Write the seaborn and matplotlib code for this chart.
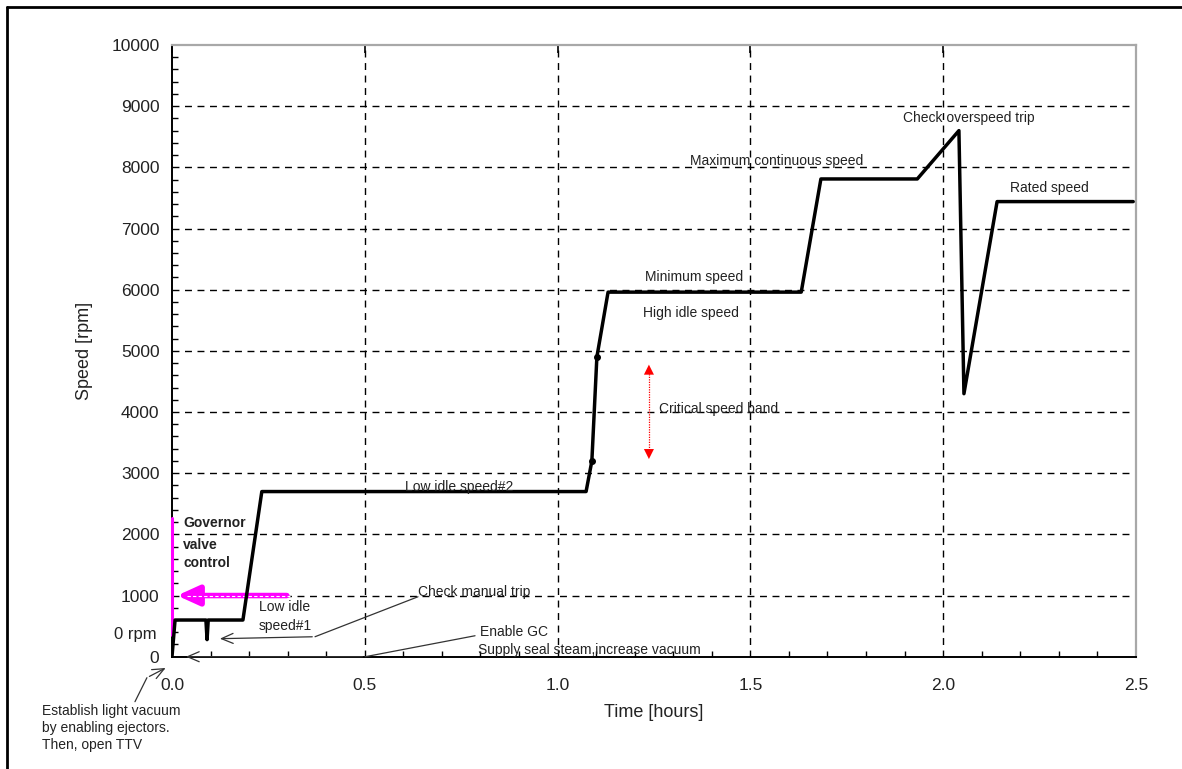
import matplotlib
matplotlib.use("Agg")
import matplotlib.pyplot as plt
import seaborn as sns
import pandas as pd
from matplotlib.lines import Line2D
from matplotlib.ticker import MultipleLocator

sns.set_theme(style="white")
plt.rcParams['font.family'] = ['Liberation Sans', 'DejaVu Sans']

# ---- data ----
time_h = [0.0, 0.008, 0.088, 0.091, 0.094, 0.184, 0.233, 1.074, 1.089, 1.102, 1.131,
          1.632, 1.683, 1.933, 2.041, 2.054, 2.140, 2.493]
speed_rpm = [0, 600, 600, 280, 600, 600, 2700, 2700, 3200, 4900, 5960,
             5960, 7810, 7810, 8600, 4300, 7440, 7440]
marker_time = [1.089, 1.102]
marker_speed = [3200, 4900]
x_ticks = [0.0, 0.5, 1.0, 1.5, 2.0, 2.5]
x_labels = ["0.0", "0.5", "1.0", "1.5", "2.0", "2.5"]
y_ticks = [0, 1000, 2000, 3000, 4000, 5000, 6000, 7000, 8000, 9000, 10000]
y_labels = ["0", "1000", "2000", "3000", "4000", "5000", "6000", "7000", "8000", "9000", "10000"]

df = pd.DataFrame({"time": time_h, "speed": speed_rpm})

fig = plt.figure(figsize=(11.82, 7.69), dpi=100)
ax = fig.add_axes([0.1455, 0.146, 0.8155, 0.7955])

# grid
for xv in x_ticks[1:-1]:
    ax.axvline(xv, color="black", lw=1.0, ls=(0, (5, 4)), zorder=1)
for yv in y_ticks[1:-1]:
    ax.axhline(yv, color="black", lw=1.0, ls=(0, (5, 4)), zorder=1)

# magenta governor marks
ax.plot([0.0, 0.0], [360, 2270], color="#ff00ff", lw=2.2, zorder=3, clip_on=False)
ax.annotate("", xy=(0.006, 1000), xytext=(0.305, 1000),
            arrowprops=dict(arrowstyle="-|>,head_length=1.1,head_width=0.5",
                            color="#ff00ff", lw=4), zorder=3)
ax.plot([0.04, 0.305], [1000, 1000], color="white", lw=0.8, ls=(0, (3, 2)), zorder=3.5)

# main line
sns.lineplot(data=df, x="time", y="speed", sort=False, estimator=None,
             color="black", lw=2.5, ax=ax, zorder=4)
ax.plot(marker_time, marker_speed, "o", color="black", ms=4, zorder=5)

# red critical band arrow
ax.plot([1.237, 1.237], [3300, 4700], color="red", lw=0.9, ls=(0, (1, 1)), zorder=3)
ax.annotate("", xy=(1.237, 4820), xytext=(1.237, 4500),
            arrowprops=dict(arrowstyle="-|>,head_length=0.6,head_width=0.3", color="red", lw=0.01))
ax.annotate("", xy=(1.237, 3186), xytext=(1.237, 3500),
            arrowprops=dict(arrowstyle="-|>,head_length=0.6,head_width=0.3", color="red", lw=0.01))

ax.set_xlim(0, 2.5)
ax.set_ylim(0, 10000)
ax.set_xticks(x_ticks)
ax.set_xticklabels(x_labels)
ax.set_yticks(y_ticks)
ax.set_yticklabels(y_labels)
ax.xaxis.set_minor_locator(MultipleLocator(0.1))
ax.yaxis.set_minor_locator(MultipleLocator(200))
ax.tick_params(axis="both", which="major", direction="in", length=6, width=1.2,
               color="black", labelsize=12.5, labelcolor="#222222")
ax.tick_params(axis="x", which="major", pad=15, top=True)
ax.tick_params(axis="y", which="major", pad=9)
ax.tick_params(axis="both", which="minor", direction="in", length=4, width=1.0,
               color="black", bottom=True, left=True, top=False, right=False)
ax.set_xlabel("Time [hours]", fontsize=13, labelpad=8, color="#222222")
ax.set_ylabel("Speed [rpm]", fontsize=13, labelpad=13, color="#222222")

for s in ["left", "bottom"]:
    ax.spines[s].set_color("black")
    ax.spines[s].set_linewidth(1.4)
for s in ["top", "right"]:
    ax.spines[s].set_color("#a8a8a8")
    ax.spines[s].set_linewidth(1.6)
    ax.spines[s].set_visible(True)

tc = "#222222"
fs = 10
def txt(x, y, s, **kw):
    kw.setdefault("fontsize", fs)
    ax.text(x, y, s, ha=kw.pop("ha", "left"), va=kw.pop("va", "center"), color=tc,
            clip_on=False, zorder=6, **kw)

txt(0.029, 2190, "Governor", fontweight="bold")
txt(0.029, 1830, "valve", fontweight="bold")
txt(0.029, 1536, "control", fontweight="bold")
txt(0.226, 817, "Low idle")
txt(0.226, 507, "speed#1")
txt(0.638, 1062, "Check manual trip")
txt(0.799, 408, "Enable GC")
txt(0.794, 114, "Supply seal steam,increase vacuum")
txt(0.604, 2778, "Low idle speed#2")
txt(1.227, 6209, "Minimum speed")
txt(1.222, 5621, "High idle speed")
txt(1.263, 4052, "Critical speed band")
txt(1.344, 8105, "Maximum continuous speed")
txt(1.896, 8807, "Check overspeed trip")
txt(2.174, 7663, "Rated speed")
txt(-0.039, 360, "0 rpm", ha="right", fontsize=12)
txt(-0.337, -882, "Establish light vacuum")
txt(-0.337, -1160, "by enabling ejectors.")
txt(-0.337, -1438, "Then, open TTV")

# thin pointer arrows
def pointer(xs, ys):
    ax.plot(xs[:-1], ys[:-1], color="#333333", lw=0.9, clip_on=False, zorder=5)
    ax.annotate("", xy=(xs[-1], ys[-1]), xytext=(xs[-2], ys[-2]),
                arrowprops=dict(arrowstyle="->,head_length=0.7,head_width=0.3",
                                color="#333333", lw=0.9),
                annotation_clip=False, zorder=5)

pointer([0.638, 0.371, 0.117], [980, 327, 294])
pointer([0.786, 0.501, 0.029], [343, 0, 0])
pointer([-0.096, -0.065, -0.010], [-735, -343, -163])

# outer frame (top and left)
fig.add_artist(Line2D([7/1182, 7/1182], [0, 1 - 7/769], color="black", lw=2,
                      transform=fig.transFigure))
fig.add_artist(Line2D([7/1182, 1], [1 - 7/769, 1 - 7/769], color="black", lw=2,
                      transform=fig.transFigure))

fig.savefig("out.png", dpi=100, facecolor="white")
